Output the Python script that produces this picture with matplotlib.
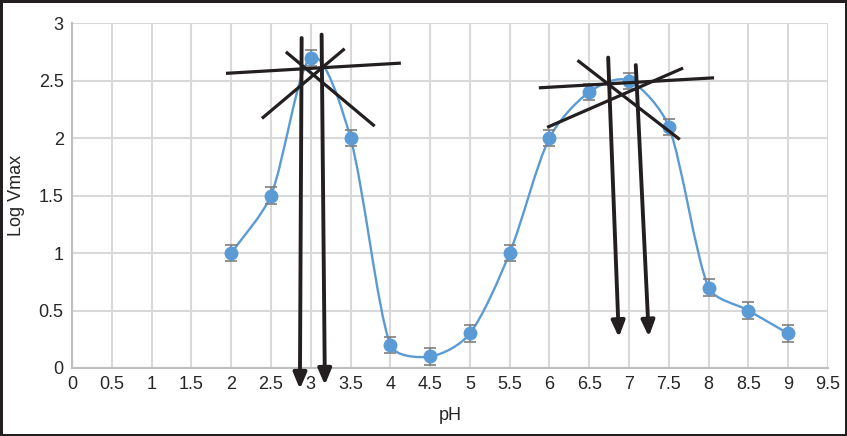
import numpy as np
import matplotlib
matplotlib.use('Agg')
import matplotlib.pyplot as plt
from matplotlib.path import Path
from matplotlib.patches import PathPatch

plt.rcParams['font.family'] = ['Liberation Sans', 'DejaVu Sans']

# measured data
ph = [2, 2.5, 3, 3.5, 4, 4.5, 5, 5.5, 6, 6.5, 7, 7.5, 8, 8.5, 9]
log_vmax = [1.0, 1.5, 2.7, 2.0, 0.2, 0.1, 0.3, 1.0, 2.0, 2.4, 2.5, 2.1, 0.7, 0.5, 0.3]
err = [0.07] * len(ph)

x_ticks = [0, 0.5, 1, 1.5, 2, 2.5, 3, 3.5, 4, 4.5, 5, 5.5, 6, 6.5, 7, 7.5, 8, 8.5, 9, 9.5]
y_ticks = [0, 0.5, 1, 1.5, 2, 2.5, 3]

# hand-drawn tangent lines (x0, y0, x1, y1)
tangents = [
    (1.935, 2.563, 4.133, 2.652),
    (2.387, 2.171, 3.426, 2.777),
    (2.688, 2.750, 3.803, 2.104),
    (5.867, 2.437, 8.069, 2.524),
    (5.971, 2.093, 7.680, 2.609),
    (6.353, 2.676, 7.638, 1.988),
]
# arrows dropped to the pH axis (x_top, y_top, x_tip, y_tip)
arrows = [
    (2.886, 2.87, 2.864, -0.183),
    (3.137, 2.90, 3.178, -0.148),
    (6.738, 2.70, 6.872, 0.267),
    (7.085, 2.635, 7.249, 0.272),
]

blue = '#5b9bd5'
ink = '#231f20'

fig = plt.figure(figsize=(8.47, 4.36), dpi=100)
fig.patch.set_edgecolor('#231f20')
fig.patch.set_linewidth(2.5)
ax = fig.add_axes([0.085, 0.156, 0.8925, 0.791])

# smoothed line like a spreadsheet chart: bezier segments, tangent along
# neighbour direction, arm limited by the segment length (in screen-ish units)
sx, sy = 79.6, 115.0
pts = np.column_stack([np.array(ph) * sx, np.array(log_vmax) * sy])
n = len(pts)
tang = []
for i in range(n):
    d = pts[min(i + 1, n - 1)] - pts[max(i - 1, 0)]
    tang.append(d / 6)
verts = [pts[0]]
codes = [Path.MOVETO]
for i in range(n - 1):
    seg = np.hypot(*(pts[i + 1] - pts[i]))
    t1, t2 = tang[i], tang[i + 1]
    l1, l2 = np.hypot(*t1), np.hypot(*t2)
    c1 = pts[i] + t1 * min(1, 0.3 * seg / l1)
    c2 = pts[i + 1] - t2 * min(1, 0.3 * seg / l2)
    verts += [c1, c2, pts[i + 1]]
    codes += [Path.CURVE4] * 3
verts = np.array(verts) / [sx, sy]
ax.add_patch(PathPatch(Path(verts, codes), facecolor='none', edgecolor=blue, lw=1.7, zorder=3))

ax.errorbar(ph, log_vmax, yerr=err, fmt='o', color=blue, ms=9, ecolor='#7f7f7f',
            elinewidth=1.2, capsize=4.5, capthick=1.2, zorder=4)

for x0, y0, x1, y1 in tangents:
    ax.plot([x0, x1], [y0, y1], color=ink, lw=2.3, zorder=5, clip_on=False, solid_capstyle='butt')

for x0, y0, x1, y1 in arrows:
    ax.annotate('', xy=(x1, y1), xytext=(x0, y0), annotation_clip=False, zorder=6,
                arrowprops=dict(arrowstyle='-|>,head_length=0.95,head_width=0.4', color=ink,
                                lw=2.8, shrinkA=0, shrinkB=0))

ax.set_xlim(0, 9.5)
ax.set_ylim(0, 3)
ax.set_xticks(x_ticks)
ax.set_xticklabels([f'{t:g}' for t in x_ticks])
ax.set_yticks(y_ticks)
ax.set_yticklabels([f'{t:g}' for t in y_ticks])
ax.tick_params(length=0, labelsize=13, colors='#262626', pad=6)
ax.grid(True, color='#d9d9d9', lw=1.5)
ax.set_axisbelow(True)
for s in ['top', 'right']:
    ax.spines[s].set_visible(False)
for s in ['left', 'bottom']:
    ax.spines[s].set_color('#bfbfbf')
    ax.spines[s].set_linewidth(1.5)

ax.set_xlabel('pH', fontsize=13, color='#262626', labelpad=10)
ax.set_ylabel('Log Vmax', fontsize=13, color='#262626', labelpad=10)

fig.savefig('out.png', dpi=100, edgecolor=fig.get_edgecolor())
